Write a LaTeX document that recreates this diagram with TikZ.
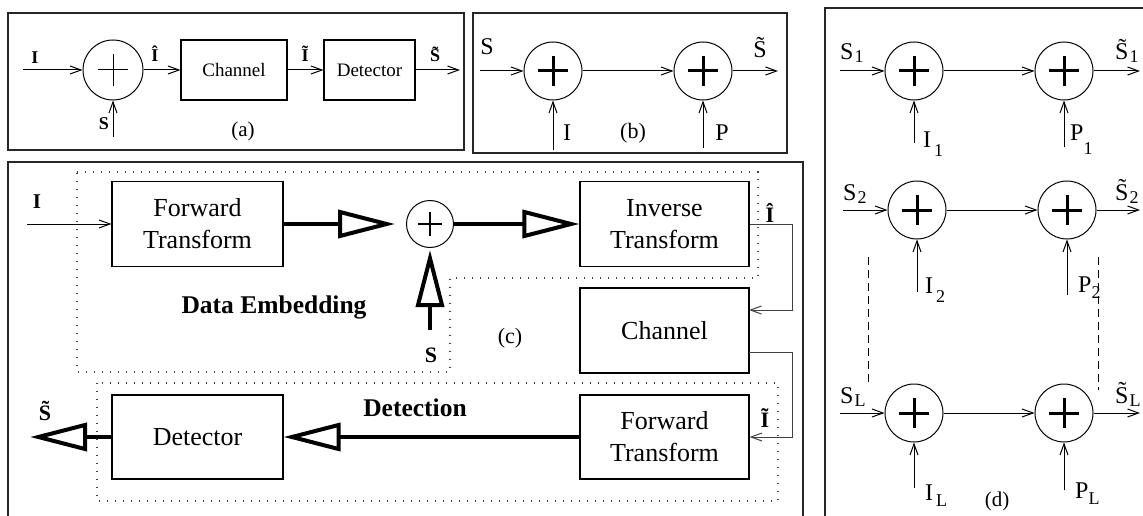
\documentclass[tikz,border=0pt]{standalone}
\usepackage{fontspec}
\setmainfont{Liberation Serif}
\usetikzlibrary{arrows.meta,calc}

% font size helper: size and extra baseline skip in pt
\newcommand\fsz[2][0]{\fontsize{#2}{\dimexpr#2pt+#1pt\relax}\selectfont}
% lowered index in the (d) panel: [kern] drop text
\newcommand\idx[3][1pt]{\kern#1\raisebox{-#2}{\fsz{18}#3}}

\begin{document}
\begin{tikzpicture}[x=1pt,y=-1pt,
  frame/.style={draw=black!85,line width=1.2pt},
  thinl/.style={line width=1pt},
  arr/.style={thinl,-{Straight Barb[length=11pt,width=8pt]}},
  fat/.style={line width=4pt,-{Triangle[open,length=57pt,width=28pt]}},
  block/.style={draw,line width=1.1pt,inner sep=0pt,align=center},
  dots/.style={draw=black!75,line width=1.3pt,dash pattern=on 1.3pt off 6.7pt},
  dashln/.style={line width=1pt,dash pattern=on 8pt off 5pt},
  sumA/.style={circle,draw,line width=1pt,inner sep=0pt,minimum size=60pt,
    path picture={\draw[line width=1pt]
      (path picture bounding box.center) ++(-15,0) -- ++(30,0)
      (path picture bounding box.center) ++(0,-16) -- ++(0,32);}},
  sumB/.style={circle,draw,line width=1pt,inner sep=0pt,minimum size=58pt,
    path picture={\draw[line width=3pt]
      (path picture bounding box.center) ++(-15,0) -- ++(30,0)
      (path picture bounding box.center) ++(0,-15) -- ++(0,30);}},
  sumC/.style={circle,draw,line width=1pt,inner sep=0pt,minimum size=47pt,
    path picture={\draw[line width=1.2pt]
      (path picture bounding box.center) ++(-12,0) -- ++(24,0)
      (path picture bounding box.center) ++(0,-12) -- ++(0,24);}},
  lbl/.style={inner sep=0pt},
  dl/.style={inner sep=0pt,anchor=base west,font=\fsz{24}},
  twoline/.style={font={\fsz[6]{26}}},
]
\useasboundingbox (0,0) rectangle (1143,516);
\clip (0,0) rectangle (1143,516);

% ---------- frames ----------
\draw[frame] (8,13) rectangle (464,150);
\draw[frame] (473,13) rectangle (787,153);
\draw[frame] (8,162) rectangle (803,530);
\draw[frame] (825,8) rectangle (1160,530);

% ---------- (a) embedding and detection chain ----------
\node[sumA] (aS) at (113,70) {};
\node[block,minimum width=106pt,minimum height=60pt,font=\fsz{19}] (aCh) at (234,70) {Channel};
\node[block,minimum width=91pt,minimum height=60pt,font=\fsz{19}] (aDet) at (369.5,70) {Detector};
\coordinate (aIin) at (23,70);
\coordinate (aSin) at (113,137);
\coordinate (aOut) at (460,70);
\draw[arr] (aIin) -- (aS);
\draw[arr] (aSin) -- (aS);
\draw[arr] (aS) -- (aCh);
\draw[arr] (aCh) -- (aDet);
\draw[arr] (aDet) -- (aOut);
\node[lbl,font=\fsz{18}\bfseries] (aIl) at (35,58) {I};
\node[lbl,font=\fsz{18}\bfseries] (aSl) at (104,124) {S};
\node[lbl,font=\fsz{18}\bfseries,anchor=base] (aIh) at (155,62) {Î};
\node[lbl,font=\fsz{18}\bfseries,anchor=base] (aIt) at (305,62) {Ĩ};
\node[lbl,font=\fsz{18}\bfseries,anchor=base] (aSt) at (435,62) {S̃};
\node[lbl,font=\fsz{21}] (aCap) at (243,131) {(a)};

% ---------- (b) two additive stages ----------
\node[sumB] (b1) at (553,71) {};
\node[sumB] (b2) at (703,71) {};
\coordinate (bSin) at (480,71);
\coordinate (bOut) at (778,71);
\coordinate (bIin) at (553,150);
\coordinate (bPin) at (703,148);
\draw[arr] (bSin) -- (b1);
\draw[arr] (b1) -- (b2);
\draw[arr] (b2) -- (bOut);
\draw[arr] (bIin) -- (b1);
\draw[arr] (bPin) -- (b2);
\node[lbl,font=\fsz{24},anchor=base] (bSl) at (487,55) {S};
\node[lbl,font=\fsz{24},anchor=base] (bSt) at (760,58) {S̃};
\node[lbl,font=\fsz{24},anchor=base] (bIl) at (567,140) {I};
\node[lbl,font=\fsz{24},anchor=base] (bPl) at (722,140) {P};
\node[lbl,font=\fsz{22}] (bCap) at (633,133) {(b)};

% ---------- (d) parallel channels ----------
\foreach \r/\y/\dx in {1/71/0, 2/210/3, L/413/0}{
  \node[sumB] (d\r a) at ($(914,\y)+(\dx,0)$) {};
  \node[sumB] (d\r b) at ($(1064,\y)+(\dx,0)$) {};
  \coordinate (d\r in) at ($(840,\y)+(\dx,0)$);
  \coordinate (d\r out) at (1140,\y);
  \draw[arr] (d\r in) -- (d\r a);
  \draw[arr] (d\r a) -- (d\r b);
  \draw[arr] (d\r b) -- (d\r out);
}
\coordinate (d1i) at (914,143);  \coordinate (d1p) at (1064,147);
\coordinate (d2i) at (917,292);  \coordinate (d2p) at (1067,295);
\coordinate (dLi) at (914,488);  \coordinate (dLp) at (1064,490);
\draw[arr] (d1i) -- (d1a);  \draw[arr] (d1p) -- (d1b);
\draw[arr] (d2i) -- (d2a);  \draw[arr] (d2p) -- (d2b);
\draw[arr] (dLi) -- (dLa);  \draw[arr] (dLp) -- (dLb);
% rows between 2 and L are left out
\coordinate (dash1a) at (868,257); \coordinate (dash1b) at (868,383);
\coordinate (dash2a) at (1098,257); \coordinate (dash2b) at (1098,390);
\draw[dashln] (dash1a) -- (dash1b);
\draw[dashln] (dash2a) -- (dash2b);
% labels of the rows
\node[dl] (s1) at (840,60) {S\idx{3pt}{1}};
\node[dl] (st1) at (1115,60) {S̃\idx{3pt}{1}};
\node[dl] (i1) at (923,148) {I\idx[3pt]{9pt}{1}};
\node[dl] (p1) at (1070,140) {P\idx[0pt]{14pt}{1}};
\node[dl] (s2) at (843,200) {S\idx{3pt}{2}};
\node[dl] (st2) at (1115,200) {S̃\idx{3pt}{2}};
\node[dl] (i2) at (925,293) {I\idx[3pt]{9pt}{2}};
\node[dl] (p2) at (1078,292) {P\idx[0pt]{6pt}{2}};
\node[dl] (sL) at (840,403) {S\idx{3pt}{L}};
\node[dl] (stL) at (1115,403) {S̃\idx{3pt}{L}};
\node[dl] (iL) at (925,500) {I\idx[3pt]{6pt}{L}};
\node[dl] (pL) at (1075,498) {P\idx[0pt]{6pt}{L}};
\node[lbl,font=\fsz{21}] (dCap) at (997,501) {(d)};

% ---------- (c) transform-domain embedding ----------
\draw[dots] (77,172) -- (758,172) -- (758,278) -- (450,278) -- (450,372) -- (77,372) -- cycle;
\draw[dots] (97,383) rectangle (778,501);

\node[block,twoline,minimum width=171pt,minimum height=85pt] (ft1) at (197.5,224) {Forward\\Transform};
\node[sumC] (cs) at (430,224) {};
\node[block,twoline,minimum width=169pt,minimum height=85pt] (itr) at (664.5,224) {Inverse\\Transform};
\node[block,minimum width=169pt,minimum height=85pt,font=\fsz{26}] (ch) at (664.5,330.5) {Channel};
\node[block,twoline,minimum width=169pt,minimum height=84pt] (ft2) at (664.5,437) {Forward\\Transform};
\node[block,minimum width=171pt,minimum height=84pt,font=\fsz{26}] (det) at (197.5,437) {Detector};

\coordinate (cIin) at (27,224);
\coordinate (cSin) at (430,330);
\coordinate (chIn) at (749,310);
\coordinate (chOut) at (749,352);
\coordinate (cOut) at (30,437);

\draw[arr] (cIin) -- (cIin -| ft1.west);
\draw[fat,shorten >=11pt] (ft1.east) -- (cs.west);
\draw[fat,shorten >=2pt] (cSin) -- (cs.south);
\draw[fat] (cs.east) -- (itr.west);
\draw[arr,draw=black!75] (itr.east) -- ++(43,0) |- (chIn);
\draw[arr,draw=black!75] (chOut) -- ++(43,0) |- (ft2.east);
\draw[fat] (ft2.west) -- (det.east);
\draw[fat] (det.west) -- (cOut);

\node[lbl,font=\fsz{21}\bfseries] (cIl) at (37,202) {I};
\node[lbl,font=\fsz{22}\bfseries] (cSl) at (431,355) {S};
\node[lbl,font=\fsz{22}\bfseries,anchor=base] (cIh) at (770,222) {Î};
\node[lbl,font=\fsz{22}\bfseries,anchor=base] (cIt) at (765,427) {Ĩ};
\node[lbl,font=\fsz{22}\bfseries,anchor=base] (cSt) at (45,420) {S̃};
\node[lbl,font=\fsz{25.5}\bfseries] (emb) at (274,307) {Data Embedding};
\node[lbl,font=\fsz{25.5}\bfseries] (detl) at (415,408) {Detection};
\node[lbl,font=\fsz{22}] (cCap) at (510,338) {(c)};
\end{tikzpicture}
\end{document}
